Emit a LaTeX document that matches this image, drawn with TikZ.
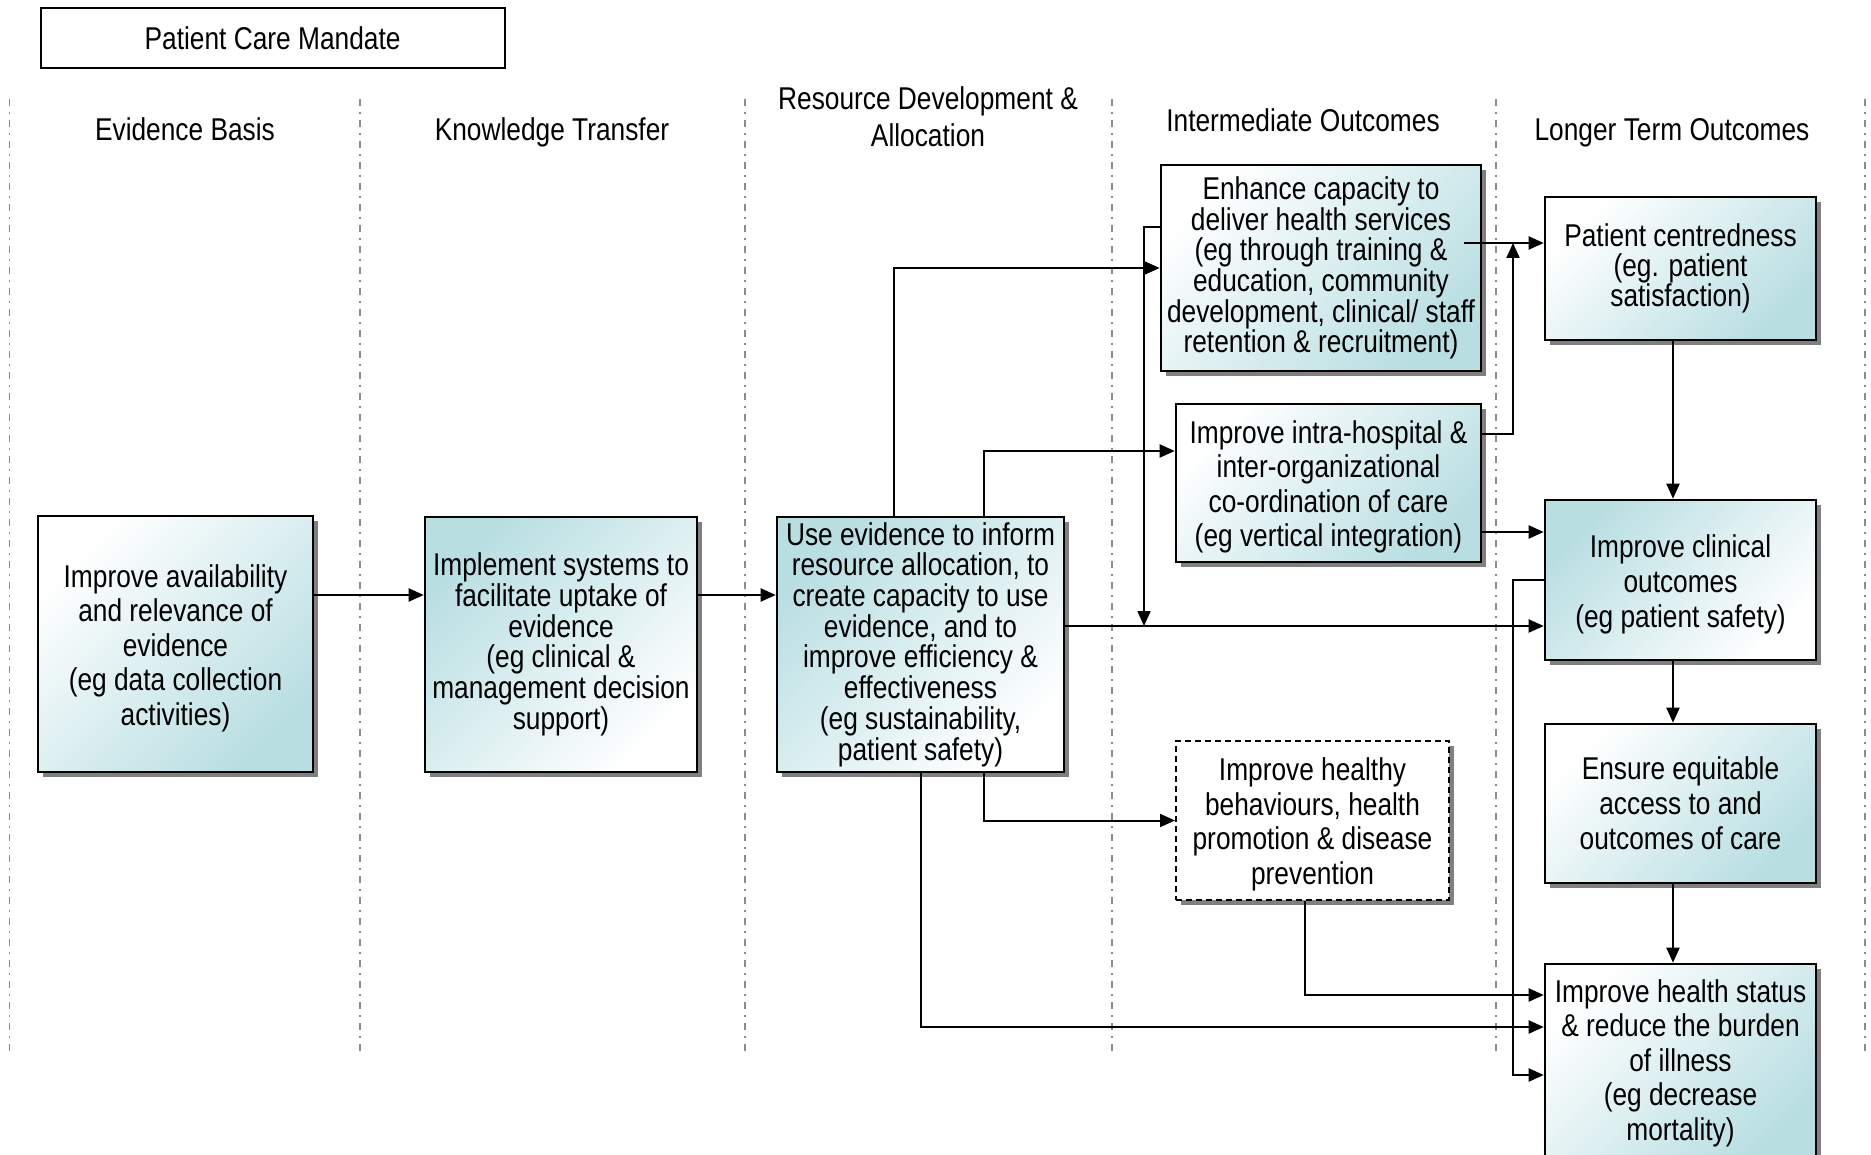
\documentclass[tikz,border=0pt]{standalone}
\usepackage{fontspec}
\setmainfont{Liberation Sans}[FakeStretch=0.835]
\usetikzlibrary{arrows.meta,shadows}
\definecolor{tealbox}{RGB}{184,222,226}
\definecolor{shadowgray}{RGB}{128,128,128}
\definecolor{sepgray}{RGB}{140,140,140}
% fixed leading for every line of a box, whatever the glyphs
\newcommand{\boxlead}[1]{\fontsize{31.5}{#1}\selectfont\lineskiplimit=-100pt\lineskip=0pt\relax}
% extra head room above a first line, to lower a block of text a little
\newcommand{\headroom}{\rule{0pt}{31pt}}

\begin{document}
\begin{tikzpicture}[x=1pt,y=-1pt,
  txt/.style={font=\boxlead{34.5}, align=center, inner sep=0pt},
  tight/.style={font=\boxlead{30.7}},
  box/.style={txt, draw=black, line width=2.6pt,
    drop shadow={shadow xshift=5pt, shadow yshift=-5pt, fill=shadowgray, opacity=1}},
  tealA/.style={top color=tealbox, bottom color=white, shading angle=45},
  tealB/.style={top color=white, bottom color=tealbox, shading angle=45},
  dashbox/.style={txt, draw=black, line width=2pt, dash pattern=on 6pt off 4pt, fill=white,
    drop shadow={shadow xshift=5pt, shadow yshift=-5pt, fill=shadowgray, opacity=1}},
  sep/.style={draw=sepgray, line width=1.5pt, dash pattern=on 7pt off 6pt on 2pt off 6pt},
  arr/.style={line width=2pt, -{Triangle[length=15pt,width=13pt]}},
]
\useasboundingbox (0,0) rectangle (1871,1155);

% column separators
\foreach \sx in {9.5,360,745,1112,1496,1865}
  \draw[sep] (\sx,99) -- (\sx,1054);

% mandate title
\node[txt, draw=black, line width=2pt, fill=white, minimum width=464pt, minimum height=60pt]
  (mandate) at (272.6,38.2) {Patient Care Mandate};

% column headers
\node[txt, anchor=base] (hEv) at (185,141) {Evidence Basis};
\node[txt, anchor=base] (hKt) at (552,141) {Knowledge Transfer};
\node[txt, font=\boxlead{37.5}] (hRd) at (928,116.5) {Resource Development \&\\Allocation};
\node[txt, anchor=base] (hIo) at (1303,132) {Intermediate Outcomes};
\node[txt, anchor=base] (hLt) at (1672,141) {Longer Term Outcomes};

% boxes
\node[box, tealB, minimum width=275pt, minimum height=256pt] (ev) at (175.5,644)
  {\headroom Improve availability\\and relevance of\\evidence\\(eg data collection\\activities)};
\node[box, tight, tealA, minimum width=272pt, minimum height=255pt] (kt) at (561,644.5)
  {Implement systems to\\facilitate uptake of\\evidence\\(eg clinical \&\\management decision\\support)};
\node[box, tight, tealA, minimum width=287pt, minimum height=255pt] (rd) at (920.5,644.5)
  {Use evidence to inform\\resource allocation, to\\create capacity to use\\evidence, and to\\improve efficiency \&\\effectiveness\\(eg sustainability,\\patient safety)};
\node[box, tight, tealB, minimum width=320pt, minimum height=206pt] (en) at (1321,268)
  {Enhance capacity to\\deliver health services\\(eg through training \&\\education, community\\development, clinical/ staff\\retention \& recruitment)};
\node[box, tealB, minimum width=305pt, minimum height=158pt] (co) at (1328.5,483)
  {\headroom Improve intra-hospital \&\\inter-organizational\\co-ordination of care\\(eg vertical integration)};
\node[dashbox, minimum width=273pt, minimum height=159pt] (hb) at (1312.5,820.5)
  {\headroom Improve healthy\\behaviours, health\\promotion \& disease\\prevention};
\node[box, font=\boxlead{29.8}, tealB, minimum width=271pt, minimum height=143pt] (pc) at (1680.5,268.5)
  {Patient centredness\\(eg. patient\\satisfaction)};
\node[box, font=\boxlead{35.2}, tealA, minimum width=271pt, minimum height=160pt] (cl) at (1680.5,580)
  {\headroom Improve clinical\\outcomes\\(eg patient safety)};
\node[box, font=\boxlead{35.2}, tealB, minimum width=271pt, minimum height=159pt] (eq) at (1680.5,803.5)
  {Ensure equitable\\access to and\\outcomes of care};
\node[box, tealB, minimum width=271pt, minimum height=198pt] (hs) at (1680.5,1063)
  {Improve health status\\\& reduce the burden\\of illness\\(eg decrease\\mortality)};

% connector rails
\coordinate (h1) at (0,595);
\coordinate (h2) at (0,451);
\coordinate (h3) at (0,227);
\coordinate (h4) at (0,626);
\coordinate (h5) at (0,243);
\coordinate (h6) at (0,434);
\coordinate (h7) at (0,532);
\coordinate (h8) at (0,580);
\coordinate (h9) at (0,1075);
\coordinate (h10) at (0,1027);
\coordinate (h11) at (0,995);
\coordinate (v1) at (894,0);
\coordinate (v2) at (984,0);
\coordinate (v3) at (1144,0);
\coordinate (v4) at (1464,0);
\coordinate (v5) at (1513,0);
\coordinate (v6) at (1673,0);
\coordinate (v7) at (921,0);
\coordinate (v8) at (1305,0);

% connectors
\draw[arr] (ev.east |- h1) -- (kt.west |- h1);
\draw[arr] (kt.east |- h1) -- (rd.west |- h1);
\draw[arr] (rd.north -| v1) |- (en.west);
\draw[arr] (rd.north -| v2) |- (co.west |- h2);
\draw[arr] (en.west |- h3) -| (v3 |- h4);
\draw[arr] (rd.east |- h4) -- (cl.west |- h4);
\draw[arr] (v4 |- h5) -- (pc.west |- h5);
\draw[arr] (co.east |- h6) -| (v5 |- h5);
\draw[arr] (co.east |- h7) -- (cl.west |- h7);
\draw[arr] (pc.south -| v6) -- (cl.north -| v6);
\draw[arr] (cl.south -| v6) -- (eq.north -| v6);
\draw[arr] (eq.south -| v6) -- (hs.north -| v6);
\draw[arr] (cl.west |- h8) -| (v5 |- h9) -- (hs.west |- h9);
\draw[arr] (rd.south -| v2) |- (hb.west);
\draw[arr] (rd.south -| v7) |- (hs.west |- h10);
\draw[arr] (hb.south -| v8) |- (hs.west |- h11);
\end{tikzpicture}
\end{document}
